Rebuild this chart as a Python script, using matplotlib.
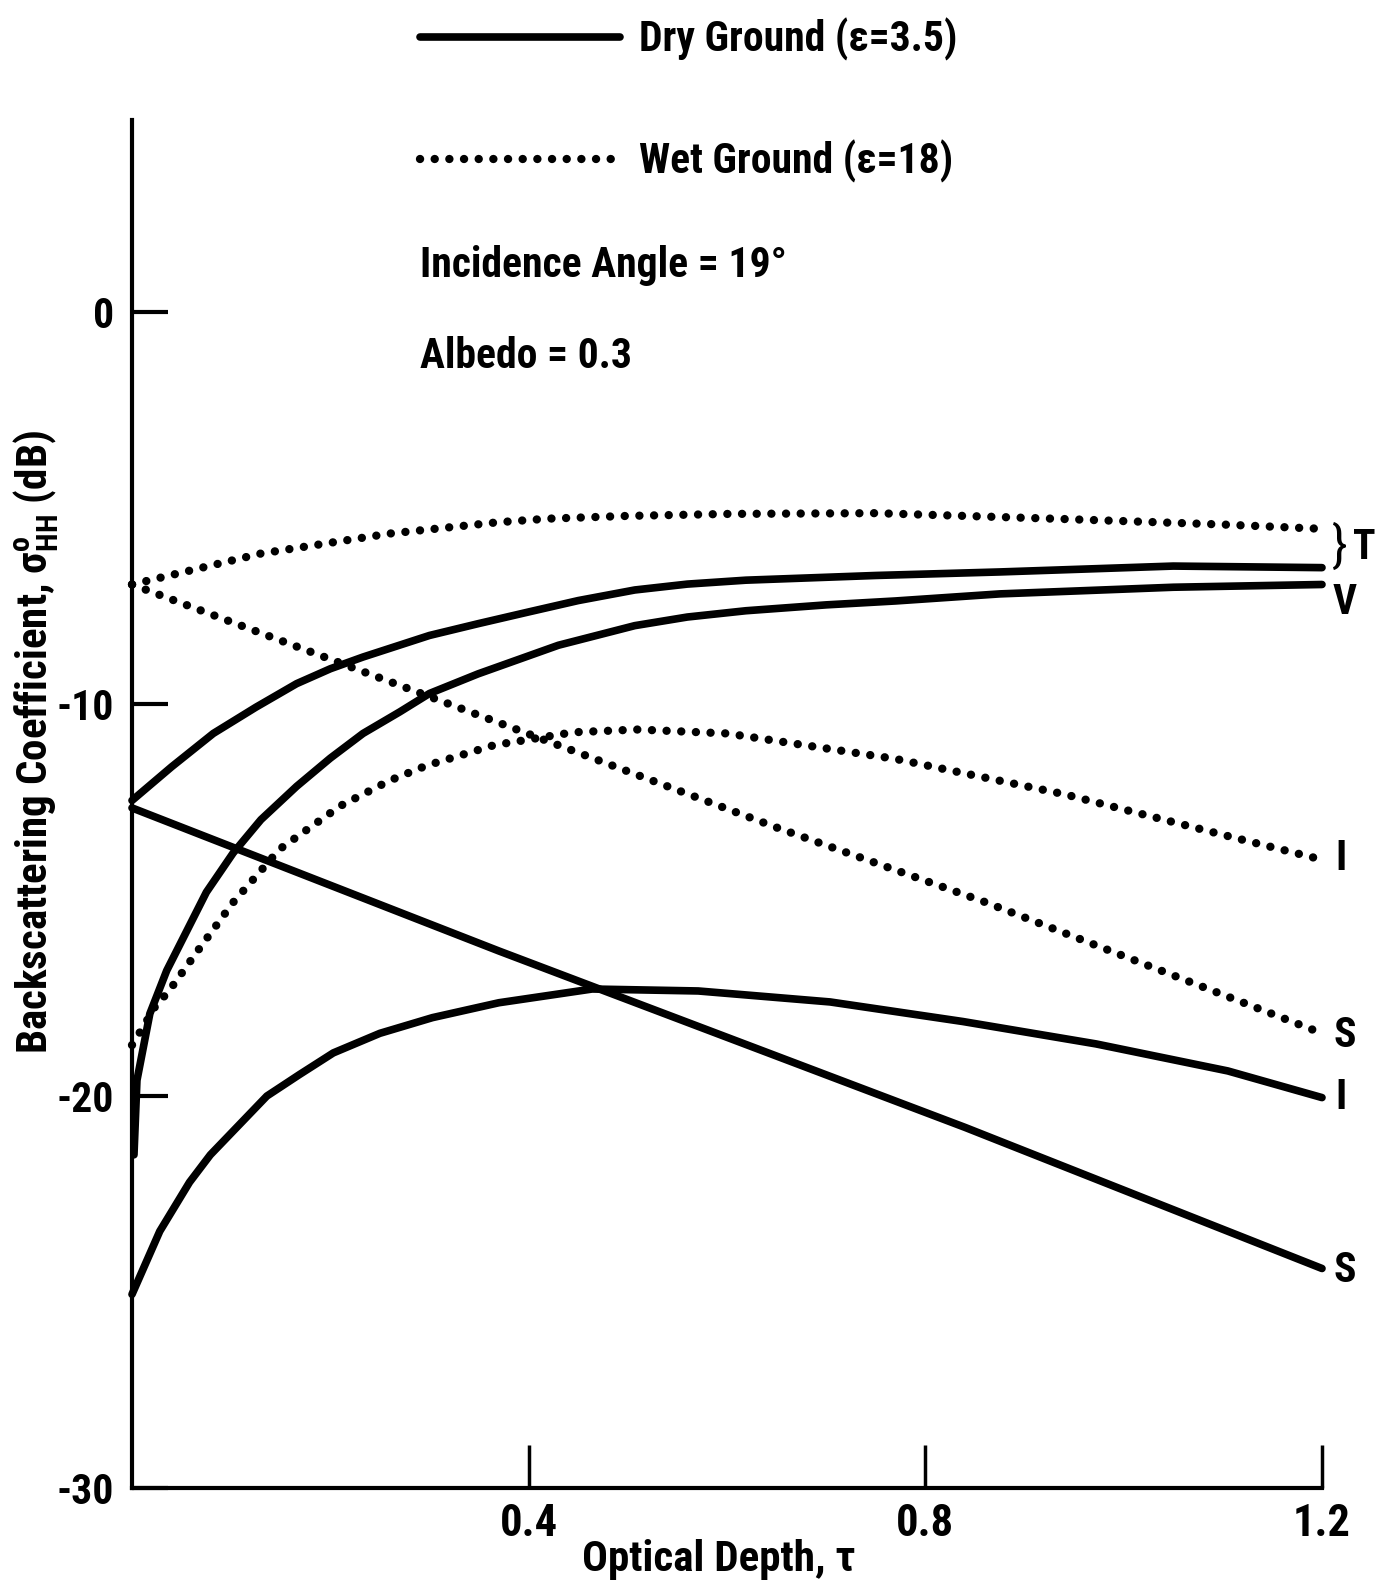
import matplotlib
matplotlib.use("Agg")
import matplotlib.pyplot as plt
from matplotlib import font_manager

# ---- data: backscattering coefficient (dB) vs optical depth ----
# Dry ground (eps = 3.5), solid lines
dry_total_tau = [0.0, 0.04, 0.082, 0.125, 0.166, 0.2, 0.233, 0.3, 0.349, 0.4, 0.45, 0.507, 0.56, 0.619, 0.75, 0.875, 1.05, 1.2]
dry_total_db = [-12.46, -11.6, -10.75, -10.08, -9.48, -9.1, -8.8, -8.25, -7.95, -7.65, -7.36, -7.09, -6.94, -6.84, -6.72, -6.63, -6.48, -6.52]

dry_volume_tau = [0.002, 0.005, 0.018, 0.035, 0.051, 0.075, 0.102, 0.13, 0.166, 0.2, 0.233, 0.27, 0.3, 0.349, 0.43, 0.507, 0.56, 0.619, 0.7, 0.77, 0.875, 1.05, 1.2]
dry_volume_db = [-21.5, -19.6, -17.9, -16.8, -16.0, -14.8, -13.8, -12.95, -12.1, -11.38, -10.75, -10.2, -9.73, -9.23, -8.5, -8.0, -7.78, -7.62, -7.47, -7.37, -7.19, -7.02, -6.95]

dry_inter_tau = [0.0, 0.028, 0.058, 0.079, 0.136, 0.169, 0.203, 0.25, 0.303, 0.37, 0.464, 0.571, 0.704, 0.838, 0.972, 1.105, 1.2]
dry_inter_db = [-25.06, -23.45, -22.2, -21.5, -20.0, -19.45, -18.9, -18.4, -18.0, -17.62, -17.27, -17.32, -17.6, -18.1, -18.67, -19.36, -20.04]

dry_surf_tau = [0.0, 0.37, 0.84, 1.2]
dry_surf_db = [-12.65, -16.3, -20.8, -24.4]

# Wet ground (eps = 18), dotted lines
wet_total_tau = [0.0, 0.13, 0.26, 0.37, 0.42, 0.5, 0.6, 0.75, 0.94, 1.1, 1.2]
wet_total_db = [-6.95, -6.16, -5.65, -5.36, -5.27, -5.2, -5.15, -5.13, -5.28, -5.42, -5.53]

wet_inter_tau = [0.0, 0.011, 0.026, 0.035, 0.069, 0.102, 0.149, 0.21, 0.26, 0.297, 0.365, 0.445, 0.51, 0.6, 0.77, 0.94, 1.11, 1.2]
wet_inter_db = [-18.7, -18.25, -17.6, -17.4, -16.2, -15.06, -13.7, -12.6, -11.95, -11.57, -11.05, -10.72, -10.65, -10.75, -11.4, -12.3, -13.4, -13.97]

wet_surf_tau = [0.0, 0.43, 0.65, 0.86, 1.2]
wet_surf_db = [-6.95, -11.05, -13.15, -15.05, -18.4]

x_ticks = [0.4, 0.8, 1.2]
x_tick_labels = ["0.4", "0.8", "1.2"]
y_ticks = [0, -10, -20, -30]
y_tick_labels = ["0", "-10", "-20", "-30"]

legend_labels = ["Dry Ground (\u03b5=3.5)", "Wet Ground (\u03b5=18)"]
conditions = ["Incidence Angle = 19\u00b0", "Albedo = 0.3"]

# ---- fonts ----
available = {f.name for f in font_manager.fontManager.ttflist}
FONT = "DejaVu Sans"
for fam in ["Liberation Sans Narrow", "Roboto Condensed", "Open Sans Condensed",
            "DejaVu Sans Condensed", "Liberation Sans"]:
    if fam in available:
        FONT = fam
        break
plt.rcParams["font.family"] = [FONT, "DejaVu Sans"]
plt.rcParams["font.weight"] = "bold"
plt.rcParams["axes.unicode_minus"] = False
plt.rcParams["mathtext.fontset"] = "custom"
plt.rcParams["mathtext.rm"] = FONT + ":bold"
plt.rcParams["mathtext.it"] = FONT + ":bold"
plt.rcParams["mathtext.bf"] = FONT + ":bold"

W, H = 1377, 1589
fig = plt.figure(figsize=(W / 100, H / 100), dpi=100)
left, right = 132 / W, 1322 / W
bottom, top = 1 - 1488 / H, 1 - 120 / H
ax = fig.add_axes([left, bottom, right - left, top - bottom])
ax.set_xlim(0, 1.2)
ax.set_ylim(-30, 4.9)

solid = dict(color="black", lw=5.5, solid_capstyle="round", solid_joinstyle="round", clip_on=False)
dotted = dict(color="black", lw=6.0, linestyle=(0, (0.01, 1.75)),
              dash_capstyle="round", clip_on=False)

h_dry, = ax.plot(dry_total_tau, dry_total_db, label=legend_labels[0], **solid)
ax.plot(dry_volume_tau, dry_volume_db, **solid)
ax.plot(dry_inter_tau, dry_inter_db, **solid)
ax.plot(dry_surf_tau, dry_surf_db, **solid)

h_wet, = ax.plot(wet_total_tau, wet_total_db, label=legend_labels[1], **dotted)
ax.plot(wet_inter_tau, wet_inter_db, **dotted)
ax.plot(wet_surf_tau, wet_surf_db, **dotted)

# axes frame: only left and bottom lines
for s in ["top", "right"]:
    ax.spines[s].set_visible(False)
for s in ["left", "bottom"]:
    ax.spines[s].set_linewidth(3)

ax.set_xticks(x_ticks)
ax.set_xticklabels(x_tick_labels)
ax.set_yticks(y_ticks)
ax.set_yticklabels(y_tick_labels)
ax.tick_params(axis="x", direction="in", length=31, width=2.5, pad=11, labelsize=32)
ax.tick_params(axis="y", direction="in", length=26, width=3, pad=13, labelsize=30)

# curve identifiers at the right end
lab = dict(fontsize=30, ha="center", va="center", clip_on=False)
ax.text(1.218, -5.98, "}", fontsize=36, fontweight="normal", ha="center", va="center")
ax.text(1.243, -6.0, "T", **lab)
ax.text(1.223, -7.4, "V", **lab)
ax.text(1.219, -13.95, "I", **lab)
ax.text(1.223, -18.45, "S", **lab)
ax.text(1.219, -20.05, "I", **lab)
ax.text(1.223, -24.45, "S", **lab)

# legend and run conditions
fig.legend(handles=[h_dry, h_wet], loc="upper left",
           bbox_to_anchor=(420 / W, 1 - 18 / H), bbox_transform=fig.transFigure,
           frameon=False, fontsize=30, borderpad=0, borderaxespad=0,
           handlelength=4.8, handletextpad=0.45, labelspacing=1.88)
fig.text(420 / W, 1 - 265 / H, conditions[0], fontsize=30, ha="left", va="center")
fig.text(420 / W, 1 - 357 / H, conditions[1], fontsize=30, ha="left", va="center")

fig.text(719 / W, 1 - 1560 / H, "Optical Depth, \u03c4", fontsize=31, ha="center", va="center")
fig.text(36 / W, 1 - 742 / H,
         "Backscattering Coefficient, $\\mathregular{\\sigma^{o}_{HH}}$ (dB)",
         fontsize=31, rotation=90, ha="center", va="center")

fig.savefig("out.png", dpi=100)
